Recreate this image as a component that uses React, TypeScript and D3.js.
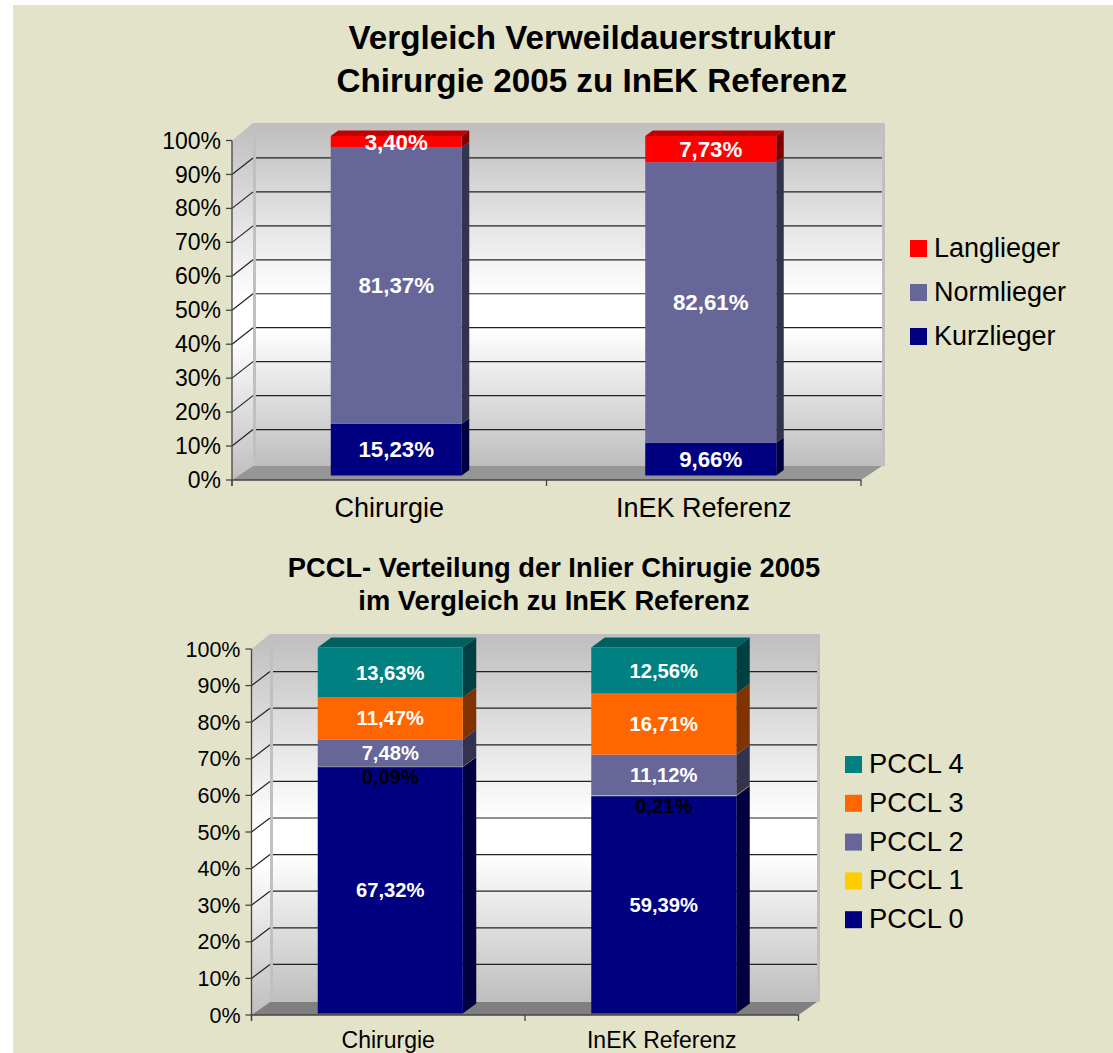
import React from 'react';
import * as d3 from 'd3';

// Upper chart data
const stayCategories = ['Chirurgie', 'InEK Referenz'];
const staySeries = ['Kurzlieger', 'Normlieger', 'Langlieger'];
const kurzlieger = [15.23, 9.66];
const normlieger = [81.37, 82.61];
const langlieger = [3.4, 7.73];
const stayColors = ['#000080', '#666699', '#ff0000'];
const stayLegend = ['Langlieger', 'Normlieger', 'Kurzlieger'];

// Lower chart data
const pcclCategories = ['Chirurgie', 'InEK Referenz'];
const pcclSeries = ['PCCL 0', 'PCCL 1', 'PCCL 2', 'PCCL 3', 'PCCL 4'];
const pccl0 = [67.32, 59.39];
const pccl1 = [0.09, 0.21];
const pccl2 = [7.48, 11.12];
const pccl3 = [11.47, 16.71];
const pccl4 = [13.63, 12.56];
const pcclColors = ['#000080', '#ffcc00', '#666699', '#ff6600', '#008080'];
const pcclLegend = ['PCCL 4', 'PCCL 3', 'PCCL 2', 'PCCL 1', 'PCCL 0'];

const percentTicks = [0, 0.1, 0.2, 0.3, 0.4, 0.5, 0.6, 0.7, 0.8, 0.9, 1];
const FONT = '"Liberation Sans", Arial, sans-serif';

const fmt = (v: number) => v.toFixed(2).replace('.', ',') + '%';
const pts = (p: number[][]) => p.map(d => d.join(',')).join(' ');

type ChartProps = {
  id: string;
  categories: string[];
  series: string[];
  values: number[][];
  colors: string[];
  legend: string[];
  titles: string[];
  layout: any;
};

const Chart3D = ({ id, categories, series, values, colors, legend, titles, layout: l }: ChartProps) => {
  const rows = categories.map((c, i) => {
    const row: any = { category: c };
    series.forEach((s, k) => (row[s] = values[k][i]));
    return row;
  });
  const stacked = d3.stack().keys(series).offset(d3.stackOffsetExpand)(rows);

  const x = d3.scaleBand().domain(categories).range([l.left, l.right]);
  const y = d3.scaleLinear().domain([0, 1]).range([l.bottom, l.top]);
  const colorOf = d3.scaleOrdinal<string, string>().domain(series).range(colors);
  const wallLeft = l.left + l.wallDx;
  const wallRight = l.right + l.wallDx;
  const floorBack = l.bottom + l.floorDy;

  return (
    <g fontFamily={FONT}>
      <defs>
        <linearGradient id={id + '-wall'} x1="0" y1="0" x2="0" y2="1">
          <stop offset="0" stopColor="#bebebe" />
          <stop offset="0.5" stopColor="#ffffff" />
          <stop offset="0.6" stopColor="#ffffff" />
          <stop offset="1" stopColor="#bebebe" />
        </linearGradient>
      </defs>

      {titles.map((t, i) => (
        <text key={t} x={l.titleX} y={l.titleY + i * l.titleGap} textAnchor="middle" fontWeight="bold" fontSize={l.titleSize}>
          {t}
        </text>
      ))}

      {/* side wall, back wall, floor */}
      <polygon
        points={pts([[l.left, y(1)], [wallLeft, l.wallTop], [wallLeft, floorBack], [l.left, l.bottom]])}
        fill={`url(#${id}-wall)`}
      />
      <rect x={wallLeft} y={l.wallTop} width={wallRight - wallLeft + 3} height={floorBack - l.wallTop} fill="#c0c0c0" />
      <rect x={wallLeft + 3} y={l.wallTop} width={wallRight - wallLeft - 3} height={floorBack - l.wallTop} fill={`url(#${id}-wall)`} />
      <polygon
        points={pts([[l.left, l.bottom], [l.right, l.bottom], [wallRight, floorBack], [wallLeft, floorBack]])}
        fill={l.floor}
      />

      {/* gridlines */}
      {percentTicks.slice(1, -1).map(t => (
        <g key={t} stroke="#222" strokeWidth={1.2}>
          <line x1={l.left} x2={wallLeft} y1={y(t)} y2={y(t) + l.gridDy} />
          <line x1={wallLeft + 3} x2={wallRight} y1={y(t) + l.gridDy} y2={y(t) + l.gridDy} />
        </g>
      ))}

      {/* axes */}
      <g stroke="#444" strokeWidth={1.3}>
        <line x1={l.left} x2={l.left} y1={y(1)} y2={l.bottom + 6} />
        <line x1={l.left} x2={l.right} y1={l.bottom} y2={l.bottom} />
        {percentTicks.map(t => (
          <line key={t} x1={l.left - 6} x2={l.left} y1={y(t)} y2={y(t)} />
        ))}
        {[l.left, (l.left + l.right) / 2, l.right].map(v => (
          <line key={v} x1={v} x2={v} y1={l.bottom} y2={l.bottom + 6} />
        ))}
      </g>
      {percentTicks.map(t => (
        <text key={t} x={l.left - 11} y={y(t)} dy="0.35em" textAnchor="end" fontSize={l.axisSize} fill="#000">
          {d3.format('.0%')(t)}
        </text>
      ))}
      {categories.map(c => (
        <text key={c} x={x(c)! + x.bandwidth() / 2} y={l.catY} textAnchor="middle" fontSize={l.catSize} fill="#000">
          {c}
        </text>
      ))}

      {/* stacked bars */}
      {categories.map((c, i) => {
        const x0 = x(c)! + (x.bandwidth() - l.barWidth) / 2 + l.barDx;
        const x1 = x0 + l.barWidth;
        return (
          <g key={c}>
            {stacked.map((s, k) => {
              const yLow = y(s[i][0]) + l.barDy;
              const yHigh = y(s[i][1]) + l.barDy;
              const base = d3.rgb(colorOf(s.key));
              return (
                <g key={s.key}>
                  <polygon
                    points={pts([[x1, yLow], [x1 + l.depthDx, yLow + l.depthDy], [x1 + l.depthDx, yHigh + l.depthDy], [x1, yHigh]])}
                    fill={d3.rgb(base.r / 2, base.g / 2, base.b / 2).toString()}
                  />
                  {k === stacked.length - 1 && (
                    <polygon
                      points={pts([[x0, yHigh], [x1, yHigh], [x1 + l.depthDx, yHigh + l.depthDy], [x0 + l.depthDx, yHigh + l.depthDy]])}
                      fill={d3.rgb(base.r * 0.75, base.g * 0.75, base.b * 0.75).toString()}
                    />
                  )}
                  <rect x={x0} y={yHigh} width={l.barWidth} height={yLow - yHigh} fill={colorOf(s.key)} />
                </g>
              );
            })}
            {stacked.map((s, k) => {
              const isThin = values[k][i] < 1;
              return (
                <text
                  key={s.key}
                  x={(x0 + x1) / 2}
                  y={y((s[i][0] + s[i][1]) / 2) + l.barDy + (isThin ? 10 : 0)}
                  dy="0.35em"
                  textAnchor="middle"
                  fontWeight="bold"
                  fontSize={l.labelSize}
                  fill={isThin ? '#000' : '#fff'}
                >
                  {fmt(values[k][i])}
                </text>
              );
            })}
          </g>
        );
      })}

      {/* legend */}
      {legend.map((name, i) => (
        <g key={name} transform={`translate(${l.legendX},${l.legendY + i * l.legendGap})`}>
          <rect width={17} height={17} fill={colorOf(name)} />
          <text x={24} y={17} fontSize={l.legendSize} fill="#000">
            {name}
          </text>
        </g>
      ))}
    </g>
  );
};

const stayLayout = {
  left: 232, right: 861, top: 140.5, bottom: 480,
  wallDx: 21, gridDy: -16.5, floorDy: -14, wallTop: 123, floor: '#969696',
  barWidth: 131, barDx: 7, barDy: -4.5, depthDx: 7.5, depthDy: -5.5,
  titleX: 592, titleY: 49, titleGap: 43, titleSize: 33.2,
  axisSize: 23, catSize: 27, catY: 517, labelSize: 22.3,
  legendX: 910, legendY: 240, legendGap: 44, legendSize: 27,
};

const pcclLayout = {
  left: 251.5, right: 798.5, top: 649, bottom: 1015,
  wallDx: 18.5, gridDy: -14, floorDy: -13, wallTop: 634, floor: '#808080',
  barWidth: 145, barDx: 2, barDy: -1.5, depthDx: 13.5, depthDy: -10,
  titleX: 554, titleY: 577, titleGap: 33, titleSize: 27.3,
  axisSize: 21.5, catSize: 23, catY: 1048, labelSize: 20.2,
  legendX: 845, legendY: 756, legendGap: 38.8, legendSize: 27.3,
};

export default function App() {
  return (
    <svg width={1113} height={1053} style={{ position: 'absolute', left: 0, top: 0, display: 'block' }}>
      <rect x={0} y={0} width={1113} height={1053} fill="#ffffff" />
      <rect x={13} y={5} width={1100} height={1048} fill="#e3e3c9" />
      <Chart3D
        id="stay"
        categories={stayCategories}
        series={staySeries}
        values={[kurzlieger, normlieger, langlieger]}
        colors={stayColors}
        legend={stayLegend}
        titles={['Vergleich Verweildauerstruktur', 'Chirurgie 2005 zu InEK Referenz']}
        layout={stayLayout}
      />
      <Chart3D
        id="pccl"
        categories={pcclCategories}
        series={pcclSeries}
        values={[pccl0, pccl1, pccl2, pccl3, pccl4]}
        colors={pcclColors}
        legend={pcclLegend}
        titles={['PCCL- Verteilung der Inlier Chirugie 2005', 'im Vergleich zu InEK Referenz']}
        layout={pcclLayout}
      />
    </svg>
  );
}
